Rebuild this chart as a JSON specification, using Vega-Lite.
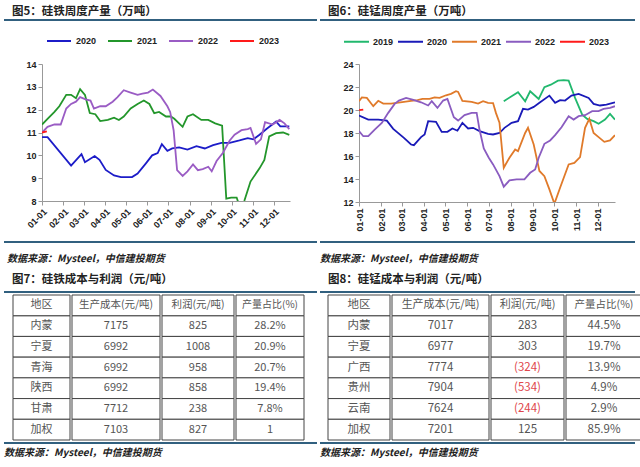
{
"$schema":"https://vega.github.io/schema/vega-lite/v6.json",
"padding":{"left":4,"top":5,"right":0,"bottom":0},
"background":"white",
"config":{"font":"Noto Sans CJK SC","view":{"stroke":null},
 "axis":{"domainColor":"#999","tickColor":"#999","labelColor":"#222","labelFont":"Liberation Sans","labelFontWeight":"bold","labelFontSize":9,"tickSize":4,"grid":false,"title":null},
 "legend":{"labelFont":"Liberation Sans","labelFontWeight":"bold","labelFontSize":9,"labelColor":"#222"}},
"datasets":{
"fe":[
{"year":"2020","date":"2020-01-01","value":10.8},{"year":"2020","date":"2020-01-09","value":10.8},{"year":"2020","date":"2020-02-12","value":9.55},{"year":"2020","date":"2020-02-27","value":10.05},{"year":"2020","date":"2020-03-03","value":9.7},{"year":"2020","date":"2020-03-17","value":9.97},{"year":"2020","date":"2020-03-24","value":9.8},{"year":"2020","date":"2020-04-02","value":9.36},{"year":"2020","date":"2020-04-14","value":9.12},{"year":"2020","date":"2020-04-24","value":9.05},{"year":"2020","date":"2020-05-02","value":9.05},{"year":"2020","date":"2020-05-10","value":9.05},{"year":"2020","date":"2020-05-18","value":9.2},{"year":"2020","date":"2020-05-30","value":9.65},{"year":"2020","date":"2020-06-08","value":10.0},{"year":"2020","date":"2020-06-16","value":10.1},{"year":"2020","date":"2020-06-22","value":10.49},{"year":"2020","date":"2020-06-30","value":10.2},{"year":"2020","date":"2020-07-07","value":10.3},{"year":"2020","date":"2020-07-17","value":10.35},{"year":"2020","date":"2020-07-29","value":10.25},{"year":"2020","date":"2020-08-11","value":10.4},{"year":"2020","date":"2020-08-23","value":10.3},{"year":"2020","date":"2020-09-04","value":10.45},{"year":"2020","date":"2020-09-16","value":10.55},{"year":"2020","date":"2020-09-28","value":10.55},{"year":"2020","date":"2020-10-12","value":10.65},{"year":"2020","date":"2020-10-24","value":10.75},{"year":"2020","date":"2020-11-01","value":10.7},{"year":"2020","date":"2020-11-10","value":10.9},{"year":"2020","date":"2020-11-20","value":11.15},{"year":"2020","date":"2020-12-04","value":11.48},{"year":"2020","date":"2020-12-10","value":11.27},{"year":"2020","date":"2020-12-23","value":11.27},
{"year":"2021","date":"2021-01-01","value":11.35},{"year":"2021","date":"2021-01-09","value":11.6},{"year":"2021","date":"2021-01-19","value":11.9},{"year":"2021","date":"2021-01-26","value":12.15},{"year":"2021","date":"2021-02-05","value":12.65},{"year":"2021","date":"2021-02-12","value":12.65},{"year":"2021","date":"2021-02-19","value":12.5},{"year":"2021","date":"2021-02-25","value":12.9},{"year":"2021","date":"2021-03-03","value":12.65},{"year":"2021","date":"2021-03-10","value":11.85},{"year":"2021","date":"2021-03-18","value":11.8},{"year":"2021","date":"2021-03-25","value":11.5},{"year":"2021","date":"2021-04-05","value":11.55},{"year":"2021","date":"2021-04-14","value":11.65},{"year":"2021","date":"2021-04-21","value":11.55},{"year":"2021","date":"2021-04-28","value":11.7},{"year":"2021","date":"2021-05-08","value":12.05},{"year":"2021","date":"2021-05-18","value":12.25},{"year":"2021","date":"2021-05-27","value":12.4},{"year":"2021","date":"2021-06-04","value":12.25},{"year":"2021","date":"2021-06-11","value":11.85},{"year":"2021","date":"2021-06-18","value":11.9},{"year":"2021","date":"2021-06-28","value":11.7},{"year":"2021","date":"2021-07-05","value":11.7},{"year":"2021","date":"2021-07-10","value":11.6},{"year":"2021","date":"2021-07-22","value":11.25},{"year":"2021","date":"2021-07-29","value":11.7},{"year":"2021","date":"2021-08-06","value":11.8},{"year":"2021","date":"2021-08-18","value":11.55},{"year":"2021","date":"2021-08-28","value":11.55},{"year":"2021","date":"2021-09-07","value":11.4},{"year":"2021","date":"2021-09-17","value":11.3},{"year":"2021","date":"2021-09-23","value":8.1},{"year":"2021","date":"2021-09-30","value":8.15},{"year":"2021","date":"2021-10-08","value":8.15},{"year":"2021","date":"2021-10-14","value":7.6},{"year":"2021","date":"2021-10-19","value":8.0},{"year":"2021","date":"2021-10-28","value":8.85},{"year":"2021","date":"2021-11-10","value":9.43},{"year":"2021","date":"2021-11-17","value":9.8},{"year":"2021","date":"2021-11-24","value":10.83},{"year":"2021","date":"2021-12-04","value":10.97},{"year":"2021","date":"2021-12-14","value":11.0},{"year":"2021","date":"2021-12-23","value":10.9},
{"year":"2022","date":"2022-01-01","value":11.0},{"year":"2022","date":"2022-01-09","value":11.25},{"year":"2022","date":"2022-01-19","value":11.35},{"year":"2022","date":"2022-01-28","value":11.35},{"year":"2022","date":"2022-02-05","value":12.05},{"year":"2022","date":"2022-02-12","value":12.25},{"year":"2022","date":"2022-02-19","value":12.35},{"year":"2022","date":"2022-02-25","value":12.55},{"year":"2022","date":"2022-03-04","value":12.45},{"year":"2022","date":"2022-03-11","value":12.4},{"year":"2022","date":"2022-03-16","value":12.05},{"year":"2022","date":"2022-03-25","value":12.15},{"year":"2022","date":"2022-04-02","value":12.15},{"year":"2022","date":"2022-04-12","value":12.35},{"year":"2022","date":"2022-04-19","value":12.55},{"year":"2022","date":"2022-04-28","value":12.85},{"year":"2022","date":"2022-05-08","value":12.75},{"year":"2022","date":"2022-05-18","value":12.65},{"year":"2022","date":"2022-05-25","value":12.7},{"year":"2022","date":"2022-06-02","value":12.75},{"year":"2022","date":"2022-06-09","value":12.88},{"year":"2022","date":"2022-06-20","value":12.6},{"year":"2022","date":"2022-06-30","value":12.15},{"year":"2022","date":"2022-07-04","value":11.9},{"year":"2022","date":"2022-07-09","value":11.1},{"year":"2022","date":"2022-07-14","value":9.35},{"year":"2022","date":"2022-07-22","value":9.1},{"year":"2022","date":"2022-07-29","value":9.3},{"year":"2022","date":"2022-08-06","value":9.6},{"year":"2022","date":"2022-08-13","value":9.35},{"year":"2022","date":"2022-08-20","value":9.4},{"year":"2022","date":"2022-08-28","value":9.5},{"year":"2022","date":"2022-09-02","value":9.3},{"year":"2022","date":"2022-09-09","value":9.75},{"year":"2022","date":"2022-09-18","value":10.1},{"year":"2022","date":"2022-09-28","value":10.65},{"year":"2022","date":"2022-10-05","value":10.9},{"year":"2022","date":"2022-10-15","value":11.1},{"year":"2022","date":"2022-10-24","value":11.15},{"year":"2022","date":"2022-10-28","value":11.2},{"year":"2022","date":"2022-11-05","value":10.5},{"year":"2022","date":"2022-11-12","value":10.7},{"year":"2022","date":"2022-11-18","value":11.45},{"year":"2022","date":"2022-11-29","value":11.35},{"year":"2022","date":"2022-12-09","value":11.55},{"year":"2022","date":"2022-12-16","value":11.4},{"year":"2022","date":"2022-12-23","value":11.15},
{"year":"2023","date":"2023-01-01","value":11.0},{"year":"2023","date":"2023-01-08","value":11.05}
],
"mn":[
{"year":"2019","date":"2019-07-22","value":20.76},{"year":"2019","date":"2019-08-02","value":21.2},{"year":"2019","date":"2019-08-11","value":21.54},{"year":"2019","date":"2019-08-21","value":20.76},{"year":"2019","date":"2019-08-28","value":21.63},{"year":"2019","date":"2019-09-09","value":20.96},{"year":"2019","date":"2019-09-17","value":21.98},{"year":"2019","date":"2019-09-26","value":22.2},{"year":"2019","date":"2019-10-06","value":22.55},{"year":"2019","date":"2019-10-14","value":22.6},{"year":"2019","date":"2019-10-21","value":22.55},{"year":"2019","date":"2019-10-30","value":21.05},{"year":"2019","date":"2019-11-09","value":19.6},{"year":"2019","date":"2019-11-16","value":19.23},{"year":"2019","date":"2019-11-25","value":19.03},{"year":"2019","date":"2019-12-02","value":18.8},{"year":"2019","date":"2019-12-11","value":19.17},{"year":"2019","date":"2019-12-18","value":19.66},{"year":"2019","date":"2019-12-25","value":19.17},
{"year":"2020","date":"2020-01-01","value":19.52},{"year":"2020","date":"2020-01-14","value":19.17},{"year":"2020","date":"2020-01-28","value":19.17},{"year":"2020","date":"2020-02-09","value":19.08},{"year":"2020","date":"2020-02-18","value":18.36},{"year":"2020","date":"2020-03-04","value":17.58},{"year":"2020","date":"2020-03-14","value":17.0},{"year":"2020","date":"2020-03-18","value":16.94},{"year":"2020","date":"2020-03-28","value":17.64},{"year":"2020","date":"2020-04-02","value":17.87},{"year":"2020","date":"2020-04-07","value":19.03},{"year":"2020","date":"2020-04-18","value":18.97},{"year":"2020","date":"2020-04-26","value":18.1},{"year":"2020","date":"2020-05-04","value":18.1},{"year":"2020","date":"2020-05-11","value":18.39},{"year":"2020","date":"2020-05-18","value":18.2},{"year":"2020","date":"2020-05-25","value":18.88},{"year":"2020","date":"2020-06-02","value":18.39},{"year":"2020","date":"2020-06-09","value":18.45},{"year":"2020","date":"2020-06-18","value":18.16},{"year":"2020","date":"2020-06-30","value":17.93},{"year":"2020","date":"2020-07-07","value":17.87},{"year":"2020","date":"2020-07-16","value":18.0},{"year":"2020","date":"2020-07-23","value":18.45},{"year":"2020","date":"2020-08-02","value":18.88},{"year":"2020","date":"2020-08-11","value":19.03},{"year":"2020","date":"2020-08-18","value":20.1},{"year":"2020","date":"2020-08-25","value":20.04},{"year":"2020","date":"2020-09-02","value":20.27},{"year":"2020","date":"2020-09-11","value":20.67},{"year":"2020","date":"2020-09-24","value":21.25},{"year":"2020","date":"2020-10-02","value":20.62},{"year":"2020","date":"2020-10-09","value":20.85},{"year":"2020","date":"2020-10-16","value":20.82},{"year":"2020","date":"2020-10-25","value":21.25},{"year":"2020","date":"2020-11-04","value":21.4},{"year":"2020","date":"2020-11-18","value":21.05},{"year":"2020","date":"2020-11-25","value":20.53},{"year":"2020","date":"2020-12-04","value":20.39},{"year":"2020","date":"2020-12-13","value":20.47},{"year":"2020","date":"2020-12-25","value":20.67},
{"year":"2021","date":"2021-01-01","value":20.76},{"year":"2021","date":"2021-01-05","value":21.1},{"year":"2021","date":"2021-01-12","value":21.05},{"year":"2021","date":"2021-01-21","value":20.33},{"year":"2021","date":"2021-01-28","value":20.8},{"year":"2021","date":"2021-02-04","value":20.56},{"year":"2021","date":"2021-02-15","value":20.56},{"year":"2021","date":"2021-02-28","value":20.67},{"year":"2021","date":"2021-03-14","value":20.8},{"year":"2021","date":"2021-03-23","value":20.85},{"year":"2021","date":"2021-03-30","value":20.96},{"year":"2021","date":"2021-04-09","value":20.96},{"year":"2021","date":"2021-04-16","value":21.1},{"year":"2021","date":"2021-04-23","value":21.05},{"year":"2021","date":"2021-05-02","value":21.28},{"year":"2021","date":"2021-05-09","value":21.4},{"year":"2021","date":"2021-05-16","value":21.63},{"year":"2021","date":"2021-05-19","value":21.57},{"year":"2021","date":"2021-05-25","value":20.8},{"year":"2021","date":"2021-06-07","value":20.7},{"year":"2021","date":"2021-06-16","value":20.56},{"year":"2021","date":"2021-06-23","value":20.76},{"year":"2021","date":"2021-06-30","value":20.62},{"year":"2021","date":"2021-07-07","value":20.6},{"year":"2021","date":"2021-07-11","value":19.75},{"year":"2021","date":"2021-07-16","value":18.9},{"year":"2021","date":"2021-07-22","value":14.98},{"year":"2021","date":"2021-07-30","value":15.85},{"year":"2021","date":"2021-08-07","value":16.57},{"year":"2021","date":"2021-08-11","value":16.42},{"year":"2021","date":"2021-08-21","value":18.0},{"year":"2021","date":"2021-08-25","value":18.45},{"year":"2021","date":"2021-09-02","value":17.0},{"year":"2021","date":"2021-09-10","value":14.7},{"year":"2021","date":"2021-09-17","value":14.25},{"year":"2021","date":"2021-09-24","value":13.1},{"year":"2021","date":"2021-10-01","value":11.85},{"year":"2021","date":"2021-10-09","value":13.24},{"year":"2021","date":"2021-10-21","value":15.27},{"year":"2021","date":"2021-10-29","value":15.4},{"year":"2021","date":"2021-11-06","value":15.9},{"year":"2021","date":"2021-11-13","value":18.45},{"year":"2021","date":"2021-11-19","value":19.23},{"year":"2021","date":"2021-11-25","value":18.0},{"year":"2021","date":"2021-12-02","value":17.64},{"year":"2021","date":"2021-12-10","value":17.23},{"year":"2021","date":"2021-12-18","value":17.35},{"year":"2021","date":"2021-12-25","value":17.81},
{"year":"2022","date":"2022-01-01","value":18.16},{"year":"2022","date":"2022-01-07","value":17.72},{"year":"2022","date":"2022-01-14","value":17.72},{"year":"2022","date":"2022-01-23","value":18.3},{"year":"2022","date":"2022-02-02","value":18.88},{"year":"2022","date":"2022-02-11","value":19.75},{"year":"2022","date":"2022-02-20","value":20.53},{"year":"2022","date":"2022-02-26","value":20.82},{"year":"2022","date":"2022-03-07","value":21.05},{"year":"2022","date":"2022-03-16","value":20.9},{"year":"2022","date":"2022-03-28","value":20.67},{"year":"2022","date":"2022-04-07","value":20.39},{"year":"2022","date":"2022-04-12","value":20.76},{"year":"2022","date":"2022-04-20","value":20.18},{"year":"2022","date":"2022-04-28","value":20.82},{"year":"2022","date":"2022-05-04","value":20.96},{"year":"2022","date":"2022-05-13","value":19.37},{"year":"2022","date":"2022-05-19","value":19.08},{"year":"2022","date":"2022-05-28","value":19.55},{"year":"2022","date":"2022-06-07","value":19.75},{"year":"2022","date":"2022-06-14","value":19.75},{"year":"2022","date":"2022-06-18","value":18.3},{"year":"2022","date":"2022-06-24","value":16.65},{"year":"2022","date":"2022-07-01","value":15.85},{"year":"2022","date":"2022-07-07","value":15.27},{"year":"2022","date":"2022-07-16","value":14.25},{"year":"2022","date":"2022-07-22","value":13.33},{"year":"2022","date":"2022-07-30","value":13.88},{"year":"2022","date":"2022-08-09","value":13.97},{"year":"2022","date":"2022-08-20","value":13.97},{"year":"2022","date":"2022-08-28","value":14.54},{"year":"2022","date":"2022-09-04","value":14.83},{"year":"2022","date":"2022-09-09","value":15.85},{"year":"2022","date":"2022-09-17","value":17.06},{"year":"2022","date":"2022-09-25","value":17.35},{"year":"2022","date":"2022-10-02","value":17.81},{"year":"2022","date":"2022-10-11","value":18.5},{"year":"2022","date":"2022-10-21","value":19.46},{"year":"2022","date":"2022-10-28","value":19.17},{"year":"2022","date":"2022-11-04","value":19.46},{"year":"2022","date":"2022-11-13","value":19.55},{"year":"2022","date":"2022-11-23","value":19.9},{"year":"2022","date":"2022-12-02","value":19.9},{"year":"2022","date":"2022-12-09","value":20.1},{"year":"2022","date":"2022-12-18","value":20.18},{"year":"2022","date":"2022-12-25","value":20.33},
{"year":"2023","date":"2023-01-01","value":19.98},{"year":"2023","date":"2023-01-07","value":20.04}
],
"t7":[
{"region":"内蒙","cost":7175,"profit":825,"share":"28.2%"},
{"region":"宁夏","cost":6992,"profit":1008,"share":"20.9%"},
{"region":"青海","cost":6992,"profit":958,"share":"20.7%"},
{"region":"陕西","cost":6992,"profit":858,"share":"19.4%"},
{"region":"甘肃","cost":7712,"profit":238,"share":"7.8%"},
{"region":"加权","cost":7103,"profit":827,"share":"1"}
],
"t8":[
{"region":"内蒙","cost":7017,"profit":283,"share":"44.5%"},
{"region":"宁夏","cost":6977,"profit":303,"share":"19.7%"},
{"region":"广西","cost":7774,"profit":-324,"share":"13.9%"},
{"region":"贵州","cost":7904,"profit":-534,"share":"4.9%"},
{"region":"云南","cost":7624,"profit":-244,"share":"2.9%"},
{"region":"加权","cost":7201,"profit":125,"share":"85.9%"}
],
"rulerow":[{"band":"a"}]
},
"spacing":3,
"resolve":{"scale":{"color":"independent"},"legend":{"color":"independent"}},
"hconcat":[
{"columns":1,"spacing":0,"align":"none","resolve":{"scale":{"color":"independent"},"legend":{"color":"independent"}},"concat":[
 {"width":313,"height":1,"data":{"values":[]},"mark":"rule","encoding":{},
  "title":{"text":"图5：硅铁周度产量（万吨）","anchor":"start","dx":8,"fontSize":11.5,"fontWeight":"bold","color":"#222","offset":0}},
 {"width":313,"height":4,"data":{"name":"rulerow"},"mark":{"type":"bar","color":"#31607f"},"encoding":{"y":{"field":"band","type":"nominal","axis":null,"scale":{"paddingInner":0,"paddingOuter":0.5}}}},
 {"spacing":0,"resolve":{"scale":{"color":"independent"},"legend":{"color":"independent"}},"hconcat":[
  {"width":1,"height":1,"data":{"values":[]},"mark":"rule","encoding":{}},
  {"width":248,"height":137,"data":{"name":"fe"},
   "mark":{"type":"line","strokeWidth":1.8,"clip":true},
   "encoding":{
    "x":{"field":"date","type":"temporal","timeUnit":"utcmonthdate",
     "scale":{"domain":[{"year":2012,"month":1,"date":1,"utc":true},{"year":2012,"month":12,"date":24,"utc":true}]},
     "axis":{"format":"%m-%d","labelAngle":-45,"labelOverlap":false,"minExtent":39,"maxExtent":39,
      "values":[{"year":2012,"month":1,"date":1,"utc":true},{"year":2012,"month":2,"date":1,"utc":true},{"year":2012,"month":3,"date":1,"utc":true},{"year":2012,"month":4,"date":1,"utc":true},{"year":2012,"month":5,"date":1,"utc":true},{"year":2012,"month":6,"date":1,"utc":true},{"year":2012,"month":7,"date":1,"utc":true},{"year":2012,"month":8,"date":1,"utc":true},{"year":2012,"month":9,"date":1,"utc":true},{"year":2012,"month":10,"date":1,"utc":true},{"year":2012,"month":11,"date":1,"utc":true},{"year":2012,"month":12,"date":1,"utc":true}]}},
    "y":{"field":"value","type":"quantitative","scale":{"domain":[8,14],"nice":false,"zero":false},
     "axis":{"values":[8,9,10,11,12,13,14],"minExtent":37,"maxExtent":37}},
    "color":{"field":"year","type":"nominal","scale":{"domain":["2020","2021","2022","2023"],"range":["#1c1cc8","#23962b","#9a5cc4","#ff1a1a"]},
     "legend":{"title":null,"orient":"none","direction":"horizontal","legendX":-2,"legendY":-42,"padding":6,"symbolType":"stroke","symbolSize":576,"symbolStrokeWidth":2,"columnPadding":7,"labelOffset":4}}
   }}
 ]},
 {"width":313,"height":4,"data":{"name":"rulerow"},"mark":{"type":"bar","color":"#31607f"},"encoding":{"y":{"field":"band","type":"nominal","axis":null,"scale":{"paddingInner":0,"paddingOuter":0.5}}}},
 {"width":313,"height":1,"data":{"values":[]},"mark":"rule","encoding":{},
  "title":{"text":"数据来源：Mysteel，中信建投期货","orient":"bottom","anchor":"start","dx":3,"fontSize":10,"fontWeight":"bold","fontStyle":"italic","color":"#222","offset":9}},
 {"width":1,"height":9,"data":{"values":[]},"mark":"rule","encoding":{}},
 {"width":313,"height":1,"data":{"values":[]},"mark":"rule","encoding":{},
  "title":{"text":"图7：硅铁成本与利润（元/吨）","anchor":"start","dx":8,"fontSize":11.5,"fontWeight":"bold","color":"#222","offset":4}},
 {"width":313,"height":4,"data":{"name":"rulerow"},"mark":{"type":"bar","color":"#31607f"},"encoding":{"y":{"field":"band","type":"nominal","axis":null,"scale":{"paddingInner":0,"paddingOuter":0.5}}}},
 {"spacing":0,"hconcat":[
  {"width":8,"height":1,"data":{"values":[]},"mark":"rule","encoding":{}},
  {"width":57,"height":145,"data":{"name":"t7"},
   "encoding":{"y":{"field":"region","type":"nominal","scale":{"domain":["header","内蒙","宁夏","青海","陕西","甘肃","加权"],"paddingInner":0,"paddingOuter":0},"axis":null}},
   "layer":[
    {"mark":{"type":"bar","fill":"white","stroke":"#444","strokeWidth":1}},
    {"mark":{"type":"text","fontSize":11,"color":"#555"},"encoding":{"text":{"field":"region"}}},
    {"data":{"values":[{"region":"header"}]},"mark":{"type":"bar","fill":"white","stroke":"#444","strokeWidth":1}},
    {"data":{"values":[{"region":"header"}]},"mark":{"type":"text","fontSize":11,"color":"#555"},"encoding":{"text":{"value":"地区"}}}
   ]},
  {"width":88,"height":145,"data":{"name":"t7"},
   "encoding":{"y":{"field":"region","type":"nominal","scale":{"domain":["header","内蒙","宁夏","青海","陕西","甘肃","加权"],"paddingInner":0,"paddingOuter":0},"axis":null}},
   "layer":[
    {"mark":{"type":"bar","fill":"white","stroke":"#444","strokeWidth":1}},
    {"mark":{"type":"text","fontSize":11,"color":"#555"},"encoding":{"text":{"field":"cost"}}},
    {"data":{"values":[{"region":"header"}]},"mark":{"type":"bar","fill":"white","stroke":"#444","strokeWidth":1}},
    {"data":{"values":[{"region":"header"}]},"mark":{"type":"text","fontSize":10.5,"color":"#555"},"encoding":{"text":{"value":"生产成本(元/吨)"}}}
   ]},
  {"width":72,"height":145,"data":{"name":"t7"},
   "encoding":{"y":{"field":"region","type":"nominal","scale":{"domain":["header","内蒙","宁夏","青海","陕西","甘肃","加权"],"paddingInner":0,"paddingOuter":0},"axis":null}},
   "layer":[
    {"mark":{"type":"bar","fill":"white","stroke":"#444","strokeWidth":1}},
    {"mark":{"type":"text","fontSize":11,"color":"#555"},"encoding":{"text":{"field":"profit"}}},
    {"data":{"values":[{"region":"header"}]},"mark":{"type":"bar","fill":"white","stroke":"#444","strokeWidth":1}},
    {"data":{"values":[{"region":"header"}]},"mark":{"type":"text","fontSize":10.5,"color":"#555"},"encoding":{"text":{"value":"利润(元/吨)"}}}
   ]},
  {"width":68,"height":145,"data":{"name":"t7"},
   "encoding":{"y":{"field":"region","type":"nominal","scale":{"domain":["header","内蒙","宁夏","青海","陕西","甘肃","加权"],"paddingInner":0,"paddingOuter":0},"axis":null}},
   "layer":[
    {"mark":{"type":"bar","fill":"white","stroke":"#444","strokeWidth":1}},
    {"mark":{"type":"text","fontSize":11,"color":"#555"},"encoding":{"text":{"field":"share"}}},
    {"data":{"values":[{"region":"header"}]},"mark":{"type":"bar","fill":"white","stroke":"#444","strokeWidth":1}},
    {"data":{"values":[{"region":"header"}]},"mark":{"type":"text","fontSize":10,"color":"#555"},"encoding":{"text":{"value":"产量占比(%)"}}}
   ]}
 ]},
 {"width":313,"height":4,"data":{"name":"rulerow"},"mark":{"type":"bar","color":"#31607f"},"encoding":{"y":{"field":"band","type":"nominal","axis":null,"scale":{"paddingInner":0,"paddingOuter":0.5}}}},
 {"width":313,"height":1,"data":{"values":[]},"mark":"rule","encoding":{},
  "title":{"text":"数据来源：Mysteel，中信建投期货","orient":"bottom","anchor":"start","dx":0,"fontSize":10,"fontWeight":"bold","fontStyle":"italic","color":"#222","offset":2}}
]},
{"columns":1,"spacing":0,"align":"none","resolve":{"scale":{"color":"independent"},"legend":{"color":"independent"}},"concat":[
 {"width":315,"height":1,"data":{"values":[]},"mark":"rule","encoding":{},
  "title":{"text":"图6：硅锰周度产量（万吨）","anchor":"start","dx":8,"fontSize":11.5,"fontWeight":"bold","color":"#222","offset":0}},
 {"width":315,"height":4,"data":{"name":"rulerow"},"mark":{"type":"bar","color":"#31607f"},"encoding":{"y":{"field":"band","type":"nominal","axis":null,"scale":{"paddingInner":0,"paddingOuter":0.5}}}},
 {"spacing":0,"resolve":{"scale":{"color":"independent"},"legend":{"color":"independent"}},"hconcat":[
  {"width":1,"height":1,"data":{"values":[]},"mark":"rule","encoding":{}},
  {"width":256,"height":138,"data":{"name":"mn"},
   "mark":{"type":"line","strokeWidth":1.8,"clip":true},
   "encoding":{
    "x":{"field":"date","type":"temporal","timeUnit":"utcmonthdate",
     "scale":{"domain":[{"year":2012,"month":1,"date":1,"utc":true},{"year":2012,"month":12,"date":25,"utc":true}]},
     "axis":{"format":"%m-%d","labelAngle":-90,"labelOverlap":false,"minExtent":38,"maxExtent":38,
      "values":[{"year":2012,"month":1,"date":1,"utc":true},{"year":2012,"month":2,"date":1,"utc":true},{"year":2012,"month":3,"date":1,"utc":true},{"year":2012,"month":4,"date":1,"utc":true},{"year":2012,"month":5,"date":1,"utc":true},{"year":2012,"month":6,"date":1,"utc":true},{"year":2012,"month":7,"date":1,"utc":true},{"year":2012,"month":8,"date":1,"utc":true},{"year":2012,"month":9,"date":1,"utc":true},{"year":2012,"month":10,"date":1,"utc":true},{"year":2012,"month":11,"date":1,"utc":true},{"year":2012,"month":12,"date":1,"utc":true}]}},
    "y":{"field":"value","type":"quantitative","scale":{"domain":[12,24],"nice":false,"zero":false},
     "axis":{"values":[12,14,16,18,20,22,24],"minExtent":38,"maxExtent":38}},
    "color":{"field":"year","type":"nominal","scale":{"domain":["2019","2020","2021","2022","2023"],"range":["#22b86e","#1a1ab8","#e07a2a","#8a5cc0","#ff1a1a"]},
     "legend":{"title":null,"orient":"none","direction":"horizontal","legendX":-22,"legendY":-42,"padding":6,"symbolType":"stroke","symbolSize":625,"symbolStrokeWidth":2,"columnPadding":0,"labelOffset":3}}
   }}
 ]},
 {"width":315,"height":4,"data":{"name":"rulerow"},"mark":{"type":"bar","color":"#31607f"},"encoding":{"y":{"field":"band","type":"nominal","axis":null,"scale":{"paddingInner":0,"paddingOuter":0.5}}}},
 {"width":315,"height":1,"data":{"values":[]},"mark":"rule","encoding":{},
  "title":{"text":"数据来源：Mysteel，中信建投期货","orient":"bottom","anchor":"start","dx":0,"fontSize":10,"fontWeight":"bold","fontStyle":"italic","color":"#222","offset":9}},
 {"width":1,"height":9,"data":{"values":[]},"mark":"rule","encoding":{}},
 {"width":315,"height":1,"data":{"values":[]},"mark":"rule","encoding":{},
  "title":{"text":"图8：硅锰成本与利润（元/吨）","anchor":"start","dx":8,"fontSize":11.5,"fontWeight":"bold","color":"#222","offset":4}},
 {"width":315,"height":4,"data":{"name":"rulerow"},"mark":{"type":"bar","color":"#31607f"},"encoding":{"y":{"field":"band","type":"nominal","axis":null,"scale":{"paddingInner":0,"paddingOuter":0.5}}}},
 {"spacing":0,"hconcat":[
  {"width":7,"height":1,"data":{"values":[]},"mark":"rule","encoding":{}},
  {"width":62,"height":145,"data":{"name":"t8"},
   "encoding":{"y":{"field":"region","type":"nominal","scale":{"domain":["header","内蒙","宁夏","广西","贵州","云南","加权"],"paddingInner":0,"paddingOuter":0},"axis":null}},
   "layer":[
    {"mark":{"type":"bar","fill":"white","stroke":"#444","strokeWidth":1}},
    {"mark":{"type":"text","fontSize":11.5,"color":"#555"},"encoding":{"text":{"field":"region"}}},
    {"data":{"values":[{"region":"header"}]},"mark":{"type":"bar","fill":"white","stroke":"#444","strokeWidth":1}},
    {"data":{"values":[{"region":"header"}]},"mark":{"type":"text","fontSize":11.5,"color":"#555"},"encoding":{"text":{"value":"地区"}}}
   ]},
  {"width":97,"height":145,"data":{"name":"t8"},
   "encoding":{"y":{"field":"region","type":"nominal","scale":{"domain":["header","内蒙","宁夏","广西","贵州","云南","加权"],"paddingInner":0,"paddingOuter":0},"axis":null}},
   "layer":[
    {"mark":{"type":"bar","fill":"white","stroke":"#444","strokeWidth":1}},
    {"mark":{"type":"text","fontSize":11.5,"color":"#555"},"encoding":{"text":{"field":"cost"}}},
    {"data":{"values":[{"region":"header"}]},"mark":{"type":"bar","fill":"white","stroke":"#444","strokeWidth":1}},
    {"data":{"values":[{"region":"header"}]},"mark":{"type":"text","fontSize":11,"color":"#555"},"encoding":{"text":{"value":"生产成本(元/吨)"}}}
   ]},
  {"width":73,"height":145,"data":{"name":"t8"},
   "transform":[{"calculate":"datum.profit < 0 ? '(' + (-datum.profit) + ')' : '' + datum.profit","as":"label"}],
   "encoding":{"y":{"field":"region","type":"nominal","scale":{"domain":["header","内蒙","宁夏","广西","贵州","云南","加权"],"paddingInner":0,"paddingOuter":0},"axis":null}},
   "layer":[
    {"mark":{"type":"bar","fill":"white","stroke":"#444","strokeWidth":1}},
    {"mark":{"type":"text","fontSize":11.5},"encoding":{"text":{"field":"label"},"color":{"condition":{"test":"datum.profit < 0","value":"#e0474c"},"value":"#555"}}},
    {"data":{"values":[{"region":"header"}]},"mark":{"type":"bar","fill":"white","stroke":"#444","strokeWidth":1}},
    {"data":{"values":[{"region":"header"}]},"mark":{"type":"text","fontSize":11,"color":"#555"},"encoding":{"text":{"value":"利润(元/吨)"}}}
   ]},
  {"width":76,"height":145,"data":{"name":"t8"},
   "encoding":{"y":{"field":"region","type":"nominal","scale":{"domain":["header","内蒙","宁夏","广西","贵州","云南","加权"],"paddingInner":0,"paddingOuter":0},"axis":null}},
   "layer":[
    {"mark":{"type":"bar","fill":"white","stroke":"#444","strokeWidth":1}},
    {"mark":{"type":"text","fontSize":11.5,"color":"#555"},"encoding":{"text":{"field":"share"}}},
    {"data":{"values":[{"region":"header"}]},"mark":{"type":"bar","fill":"white","stroke":"#444","strokeWidth":1}},
    {"data":{"values":[{"region":"header"}]},"mark":{"type":"text","fontSize":10.5,"color":"#555"},"encoding":{"text":{"value":"产量占比(%)"}}}
   ]}
 ]},
 {"width":315,"height":4,"data":{"name":"rulerow"},"mark":{"type":"bar","color":"#31607f"},"encoding":{"y":{"field":"band","type":"nominal","axis":null,"scale":{"paddingInner":0,"paddingOuter":0.5}}}},
 {"width":315,"height":1,"data":{"values":[]},"mark":"rule","encoding":{},
  "title":{"text":"数据来源：Mysteel，中信建投期货","orient":"bottom","anchor":"start","dx":0,"fontSize":10,"fontWeight":"bold","fontStyle":"italic","color":"#222","offset":2}}
]}
]
}
